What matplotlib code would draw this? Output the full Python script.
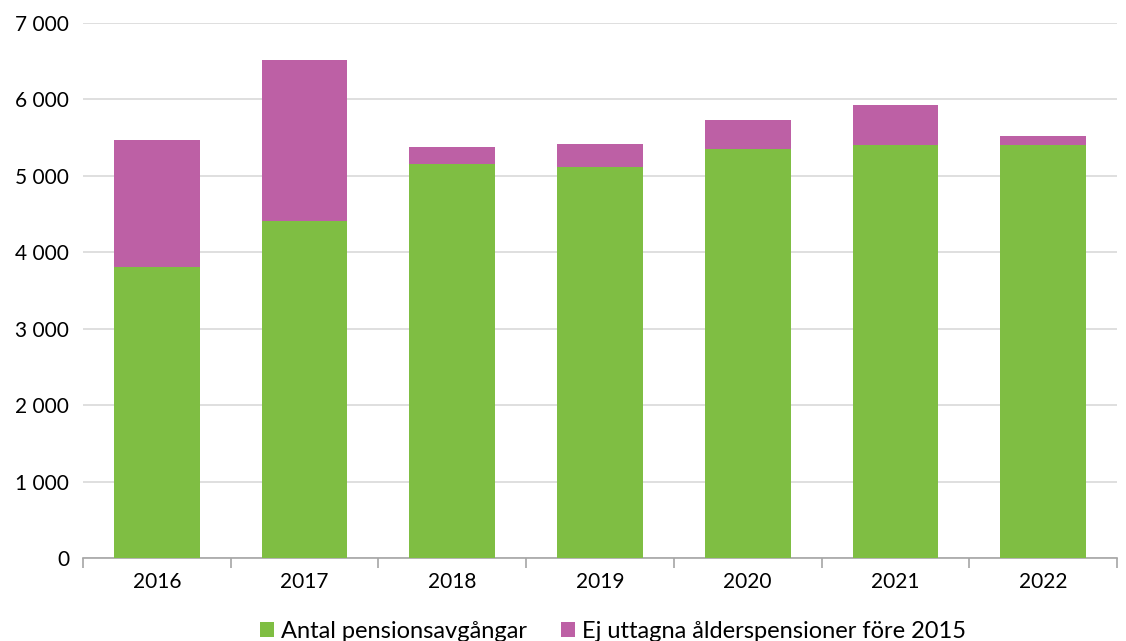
import numpy as np
import matplotlib.pyplot as plt
from matplotlib.ticker import FuncFormatter

plt.rcParams['font.family'] = ['Lato', 'DejaVu Sans']

years = ['2016', '2017', '2018', '2019', '2020', '2021', '2022']
pensionsavgangar = [3810, 4415, 5158, 5118, 5355, 5408, 5408]
ej_uttagna = [1664, 2098, 224, 303, 382, 513, 118]

green = '#7FBE43'
pink = '#BD60A5'

fig = plt.figure(figsize=(11.26, 6.41), dpi=100)
ax = fig.add_axes([83 / 1126, 1 - 558 / 641, (1117 - 83) / 1126, (558 - 23) / 641])

x = np.arange(len(years))
ax.bar(x, pensionsavgangar, width=0.58, color=green, label='Antal pensionsavgångar', zorder=3)
ax.bar(x, ej_uttagna, width=0.58, bottom=pensionsavgangar, color=pink,
       label='Ej uttagna ålderspensioner före 2015', zorder=3)

ax.set_xlim(-0.5, len(years) - 0.5)
ax.set_ylim(0, 7000)
ax.set_yticks(range(0, 7001, 1000))
ax.yaxis.set_major_formatter(FuncFormatter(lambda v, p: f'{int(v):,}'.replace(',', ' ')))
ax.grid(axis='y', color='#D9D9D9', linewidth=1.2, zorder=0)

for s in ['top', 'right', 'left']:
    ax.spines[s].set_visible(False)
ax.spines['bottom'].set_color('#A6A6A6')
ax.spines['bottom'].set_linewidth(1.2)

# etiketter i mitten, ticks mellan kategorierna
ax.set_xticks(np.arange(-0.5, len(years), 1))
ax.set_xticklabels([])
ax.set_xticks(x, minor=True)
ax.set_xticklabels(years, minor=True)
ax.tick_params(axis='x', which='major', length=7, color='#A6A6A6', width=1.2)
ax.tick_params(axis='x', which='minor', length=0, pad=10, labelsize=15)
ax.tick_params(axis='y', length=0, pad=10, labelsize=15)

fig.legend(loc='center', bbox_to_anchor=(613 / 1126, 1 - 631 / 641),
           ncol=2, frameon=False, fontsize=17, handlelength=0.6, handleheight=0.6,
           handletextpad=0.3, columnspacing=1.4, borderpad=0)

plt.savefig('out.png', dpi=100)
